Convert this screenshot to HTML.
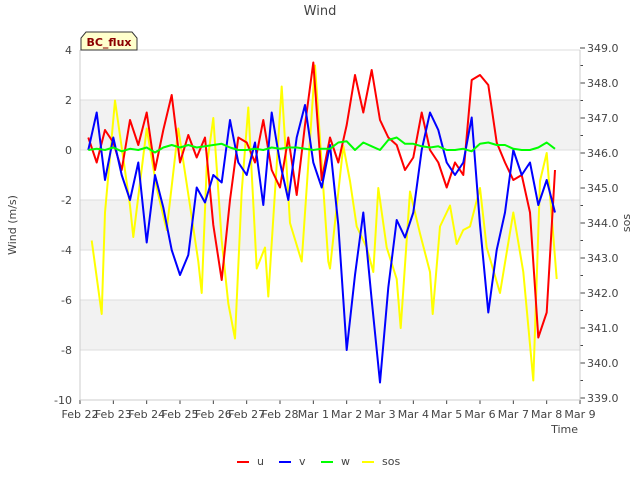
<!DOCTYPE html>
<html><head><meta charset="utf-8"><style>
body{margin:0;background:#fff;font-family:"Liberation Sans","DejaVu Sans",sans-serif}
svg text{font-family:"DejaVu Sans","Liberation Sans",sans-serif}
</style></head><body>
<svg id="c" width="640" height="480" xmlns="http://www.w3.org/2000/svg">
<text x="320" y="15" text-anchor="middle" font-size="13" fill="#444">Wind</text>
<g id="bands"></g><g id="axes"></g><g id="series"></g>
<g>
<path d="M81,50 L81,38 L86,32 L132,32 L137,38 L137,50 Z" fill="#ffffcc" stroke="#333" stroke-width="1"/>
<text x="109" y="46" text-anchor="middle" font-size="11" font-weight="bold" fill="#8b0000">BC_flux</text></g>
<text x="16" y="225" transform="rotate(-90 16 225)" text-anchor="middle" font-size="11" fill="#444">Wind (m/s)</text>
<text x="630" y="223" transform="rotate(-90 630 223)" text-anchor="middle" font-size="11" fill="#444">sos</text>
<text x="578" y="433" text-anchor="end" font-size="11" fill="#444">Time</text>
<g id="legend"></g>
</svg>
<script>
const times=[0.25,0.5,0.75,1,1.25,1.5,1.75,2,2.25,2.5,2.75,3,3.25,3.5,3.75,4,4.25,4.5,4.75,5,5.25,5.5,5.75,6,6.25,6.5,6.75,7,7.25,7.5,7.75,8,8.25,8.5,8.75,9,9.25,9.5,9.75,10,10.25,10.5,10.75,11,11.25,11.5,11.75,12,12.25,12.5,12.75,13,13.25,13.5,13.75,14,14.25];
const uVals=[0.5,-0.5,0.8,0.3,-0.8,1.2,0.2,1.5,-0.8,0.8,2.2,-0.5,0.6,-0.3,0.5,-3.0,-5.2,-2.0,0.5,0.3,-0.5,1.2,-0.8,-1.5,0.5,-1.8,1.0,3.5,-1.2,0.5,-0.5,1.0,3.0,1.5,3.2,1.2,0.5,0.2,-0.8,-0.3,1.5,0.0,-0.5,-1.5,-0.5,-1.0,2.8,3.0,2.6,0.3,-0.5,-1.2,-1.0,-2.5,-7.5,-6.5,-0.8];
const vVals=[0,1.5,-1.2,0.5,-1.0,-2.0,-0.5,-3.7,-1.0,-2.3,-4.0,-5.0,-4.2,-1.5,-2.1,-1.0,-1.3,1.2,-0.5,-1.0,0.3,-2.2,1.5,-0.5,-2.0,0.5,1.8,-0.5,-1.5,0.2,-3.0,-8.0,-5.0,-2.5,-6.0,-9.3,-5.5,-2.8,-3.5,-2.5,0.0,1.5,0.8,-0.5,-1.0,-0.5,1.3,-3.0,-6.5,-4.0,-2.5,0.0,-1.0,-0.5,-2.2,-1.2,-2.5];
const wVals=[0,0.05,0,0.1,-0.05,0.05,0,0.1,-0.1,0.1,0.2,0.1,0.2,0.1,0.15,0.2,0.25,0.1,0,0,0.05,0,0.1,0.05,0.1,0.1,0.05,0,0.05,0.05,0.3,0.35,0,0.3,0.15,0,0.4,0.5,0.25,0.25,0.15,0.1,0.15,0,0,0.05,-0.05,0.25,0.3,0.2,0.2,0.05,0,0,0.1,0.3,0.05];
const sosTimes=[0.35,0.65,0.75,1.05,1.5,1.6,2.0,2.3,2.6,2.95,3.3,3.55,3.65,3.8,4.0,4.25,4.45,4.65,4.85,5.05,5.3,5.55,5.65,6.05,6.3,6.65,7.05,7.45,7.5,7.9,8.1,8.3,8.6,8.8,8.95,9.2,9.5,9.62,9.9,10.2,10.5,10.58,10.8,11.1,11.3,11.5,11.7,12.0,12.2,12.6,13.0,13.3,13.6,13.8,14.0,14.3];
const sosVals=[343.5,341.4,344.3,347.5,344.5,343.6,346.7,345.0,343.8,346.7,344.5,342.9,342.0,345.6,347.0,343.5,341.7,340.7,344.9,347.3,342.7,343.3,341.9,347.9,344.0,342.9,348.5,342.9,342.7,346.2,345.2,343.9,343.3,342.6,345.0,343.3,342.4,341.0,344.9,343.7,342.6,341.4,343.9,344.5,343.4,343.8,343.9,345.0,343.3,342.0,344.3,342.6,339.5,345.2,346.0,342.4];
const xLabels=["Feb 22","Feb 23","Feb 24","Feb 25","Feb 26","Feb 27","Feb 28","Mar 1","Mar 2","Mar 3","Mar 4","Mar 5","Mar 6","Mar 7","Mar 8","Mar 9"];
const yTicks=[4,2,0,-2,-4,-6,-8,-10];
const y2Ticks=[349,348,347,346,345,344,343,342,341,340,339];
const NS="http://www.w3.org/2000/svg";
const L=80,R=580,T=50,B=400;
const X=d=>L+d*(R-L)/15;
const Y=v=>T+(4-v)*(B-T)/14;
const Y2=s=>48+(349-s)*35;
function mk(tag,attrs,parent){const e=document.createElementNS(NS,tag);for(const k in attrs)e.setAttribute(k,attrs[k]);parent.appendChild(e);return e;}
const bands=document.getElementById('bands'),axes=document.getElementById('axes'),ser=document.getElementById('series'),leg=document.getElementById('legend');
const bg=mk('rect',{x:L,y:T,width:R-L,height:B-T,fill:'#fff'},bands);


[[0,2],[-4,-2],[-8,-6]].forEach(b=>{const r=mk('rect',{x:L,y:Y(b[1]),width:R-L,height:Y(b[0])-Y(b[1]),fill:'#f2f2f2'},bands);

});
yTicks.forEach(v=>{mk('line',{x1:L,x2:R,y1:Y(v),y2:Y(v),stroke:'#ddd','stroke-width':1},axes);
const t=mk('text',{x:72,y:Y(v)+4,'text-anchor':'end','font-size':11,fill:'#444'},axes);t.textContent=v;

});
y2Ticks.forEach(s=>{mk('line',{x1:R,x2:R+5,y1:Y2(s),y2:Y2(s),stroke:'#444'},axes);
if(s>339)mk('line',{x1:R,x2:R+3,y1:Y2(s-0.5),y2:Y2(s-0.5),stroke:'#444'},axes);
const t=mk('text',{x:587,y:Y2(s)+4,'font-size':11,fill:'#444'},axes);t.textContent=s.toFixed(1);

});
xLabels.forEach((lab,i)=>{mk('line',{x1:X(i),x2:X(i),y1:B,y2:B+4,stroke:'#444'},axes);
const t=mk('text',{x:X(i),y:418,'text-anchor':'middle','font-size':11,fill:'#444'},axes);t.textContent=lab;

});
mk('line',{x1:L,x2:L,y1:T,y2:B,stroke:'#ccc'},axes);
mk('line',{x1:R,x2:R,y1:T,y2:B,stroke:'#ccc'},axes);
mk('line',{x1:L,x2:R,y1:B,y2:B,stroke:'#ccc'},axes);
function line(ts,vs,yf,color,name){const p=mk('polyline',{points:ts.map((t,i)=>X(t).toFixed(1)+','+yf(vs[i]).toFixed(1)).join(' '),fill:'none',stroke:color,'stroke-width':2,'stroke-linejoin':'round'},ser);

}
line(sosTimes,sosVals,Y2,'#ffff00','sos-line');
line(times,uVals,Y,'#ff0000','u-line');
line(times,vVals,Y,'#0000ff','v-line');
line(times,wVals,Y,'#00ff00','w-line');
[['u','#ff0000',237],['v','#0000ff',279],['w','#00ff00',321],['sos','#ffff00',362]].forEach(e=>{
const g=mk('g',{},leg);


mk('line',{x1:e[2],x2:e[2]+12,y1:462,y2:462,stroke:e[1],'stroke-width':2},g);
const t=mk('text',{x:e[2]+20,y:465,'font-size':11,fill:'#444'},g);t.textContent=e[0];});
</script>
</body></html>
